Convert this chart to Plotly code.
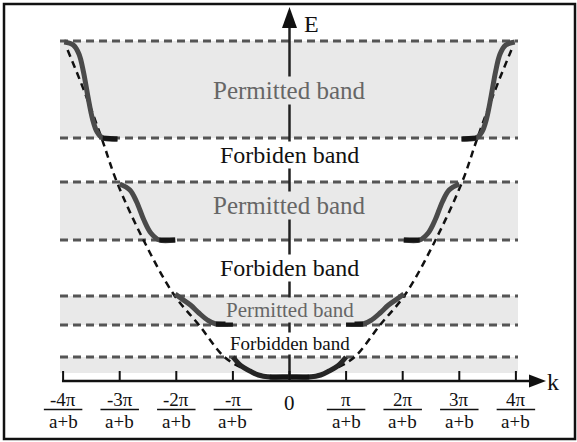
"""
Band diagram: permitted / forbidden energy bands vs. free-electron parabola.
k is in units of pi/(a+b); E is in arbitrary units (read off the picture).
"""
import plotly.graph_objects as go

# --- data -----------------------------------------------------------------
# free-electron parabola (dashed), k >= 0 half, mirrored for k < 0
K_FREE = [0, 0.5, 0.8, 1.15, 1.6, 2.05, 2.58, 3.05, 3.32, 3.62, 3.92]
E_FREE = [5, 7, 13, 25, 57, 88, 142, 200, 244, 290, 332]

# solid band curves, k >= 0 half
K_BAND1 = [0, 0.35, 0.55, 0.7, 0.85, 1.0]
E_BAND1 = [5, 5, 7, 11, 16, 25]
K_BAND2 = [1.0, 1.3, 1.45, 1.6, 1.75, 1.9, 2.02]
E_BAND2 = [58, 58, 62, 69, 77, 83, 88]
K_BAND3 = [2.02, 2.3, 2.45, 2.58, 2.7, 2.82, 3.0]
E_BAND3 = [142, 142, 149, 163, 180, 192, 198]
K_BAND4 = [3.04, 3.3, 3.4, 3.48, 3.56, 3.64, 3.72, 3.82, 3.98]
E_BAND4 = [243, 244, 250, 263, 285, 310, 328, 337, 340]

# permitted bands (bottom, top)
BAND_LOW = [9, 57, 142, 244]
BAND_HIGH = [25, 86, 200, 341]
# dashed band edges
EDGES = [25, 57, 86, 142, 200, 244, 341]

TICK_K = [-4, -3, -2, -1, 0, 1, 2, 3, 4]
TICK_NUM = ['-4π', '-3π', '-2π', '-π', '0', 'π', '2π', '3π', '4π']
TICK_DEN = 'a+b'

LABELS = ['Permitted band', 'Forbiden band', 'Permitted band',
          'Forbiden band', 'Permitted band', 'Forbidden band']
LABEL_E = [292, 227, 177, 114, 72, 39]
LABEL_PERMITTED = [True, False, True, False, True, False]

# --- geometry -------------------------------------------------------------
W, H = 577, 442
X0, XU = 289.5, 56.6      # pixel of k=0, pixels per unit k
Y0 = 382                  # pixel of E=0


def kx(px):
    return (px - X0) / XU


def ey(py):
    return Y0 - py


SHADE = '#e9e9e9'
SERIF = 'Liberation Serif, Times New Roman, serif'
INK = '#111111'
K_LEFT, K_RIGHT = kx(60), kx(518)

fig = go.Figure()

shapes = []
for lo, hi in zip(BAND_LOW, BAND_HIGH):
    shapes.append(dict(type='rect', layer='below', x0=K_LEFT, x1=K_RIGHT,
                       y0=lo, y1=hi, fillcolor=SHADE, line_width=0))
for e in EDGES:
    shapes.append(dict(type='line', layer='below', x0=K_LEFT, x1=K_RIGHT,
                       y0=e, y1=e, line=dict(color='#555555', width=3, dash='8px,5px')))

# axes
AX_E = 1
shapes.append(dict(type='line', x0=-4.02, x1=kx(530), y0=AX_E, y1=AX_E,
                   line=dict(color=INK, width=2.5)))
shapes.append(dict(type='path', path=f'M {kx(529)},{AX_E + 6.5} L {kx(546)},{AX_E} '
                   f'L {kx(529)},{AX_E - 6.5} Z', fillcolor=INK, line_width=0))
shapes.append(dict(type='line', x0=0, x1=0, y0=AX_E, y1=ey(27),
                   line=dict(color='#222222', width=2.5)))
shapes.append(dict(type='path', path=f'M {kx(282)},{ey(28)} L 0,{ey(7)} '
                   f'L {kx(297)},{ey(28)} Z', fillcolor=INK, line_width=0))
for k in TICK_K:
    shapes.append(dict(type='line', x0=k, x1=k, y0=AX_E, y1=AX_E + 10,
                       line=dict(color=INK, width=2)))
    if k != 0:
        shapes.append(dict(type='line', x0=k - 0.34, x1=k + 0.34, y0=ey(409.5), y1=ey(409.5),
                           line=dict(color=INK, width=1.5)))

# frame
shapes.append(dict(type='rect', x0=kx(4), x1=kx(575), y0=ey(4), y1=ey(439),
                   line=dict(color=INK, width=2.5)))

# free-electron parabola
fig.add_trace(go.Scatter(
    x=[-k for k in K_FREE[::-1]] + K_FREE[1:], y=E_FREE[::-1] + E_FREE[1:],
    mode='lines', line=dict(color=INK, width=2.5, dash='7px,5px', shape='spline'),
    hoverinfo='skip', showlegend=False))

# solid band curves
for kk, ee in [(K_BAND1, E_BAND1), (K_BAND2, E_BAND2), (K_BAND3, E_BAND3), (K_BAND4, E_BAND4)]:
    if kk[0] == 0:
        xs = [-k for k in kk[::-1]] + kk[1:]
        ys = ee[::-1] + ee[1:]
        parts = [(xs, ys)]
        color = '#262626'
    else:
        parts = [(kk, ee), ([-k for k in kk], ee)]
        color = '#4a4a4a'
    for xs, ys in parts:
        fig.add_trace(go.Scatter(x=xs, y=ys, mode='lines',
                                 line=dict(color=color, width=5, shape='spline'),
                                 hoverinfo='skip', showlegend=False))
        # darker flat foot of the band
        mid = len(xs) // 2
        fx = xs[:2] if kk[0] != 0 else xs[mid - 1:mid + 2]
        fy = ys[:2] if kk[0] != 0 else ys[mid - 1:mid + 2]
        fig.add_trace(go.Scatter(x=fx, y=fy, mode='lines',
                                 line=dict(color='#151515', width=5),
                                 hoverinfo='skip', showlegend=False))

annotations = []
for text, e, perm in zip(LABELS, LABEL_E, LABEL_PERMITTED):
    small = e < 100
    size = (21 if perm else 19) if small else (25 if perm else 24)
    annotations.append(dict(x=0, y=e, text=text, showarrow=False,
                            font=dict(family=SERIF, size=size,
                                      color='#666666' if perm else INK),
                            bgcolor=SHADE if perm else 'white', borderpad=0))

for k, num in zip(TICK_K, TICK_NUM):
    if k == 0:
        annotations.append(dict(x=k, y=ey(403), text=num, showarrow=False,
                                font=dict(family=SERIF, size=21, color=INK)))
        continue
    annotations.append(dict(x=k, y=ey(399), text=num, showarrow=False,
                            font=dict(family=SERIF, size=19, color=INK)))
    annotations.append(dict(x=k, y=ey(421), text=TICK_DEN, showarrow=False,
                            font=dict(family=SERIF, size=19, color=INK)))

annotations.append(dict(x=kx(553), y=ey(382), text='k', showarrow=False,
                        font=dict(family=SERIF, size=24, color=INK)))
annotations.append(dict(x=kx(311), y=ey(24), text='E', showarrow=False,
                        font=dict(family=SERIF, size=24, color=INK)))

fig.update_layout(
    width=W, height=H, margin=dict(l=0, r=0, t=0, b=0),
    paper_bgcolor='white', plot_bgcolor='white',
    xaxis=dict(range=[kx(0), kx(W)], visible=False, fixedrange=True),
    yaxis=dict(range=[ey(H), ey(0)], visible=False, fixedrange=True),
    shapes=shapes, annotations=annotations,
)

# the page body has a default 8px margin; drop it so the chart fills the window
fig.write_html("out.html", config={'displayModeBar': False},
               post_script="document.body.style.margin='0px';")
